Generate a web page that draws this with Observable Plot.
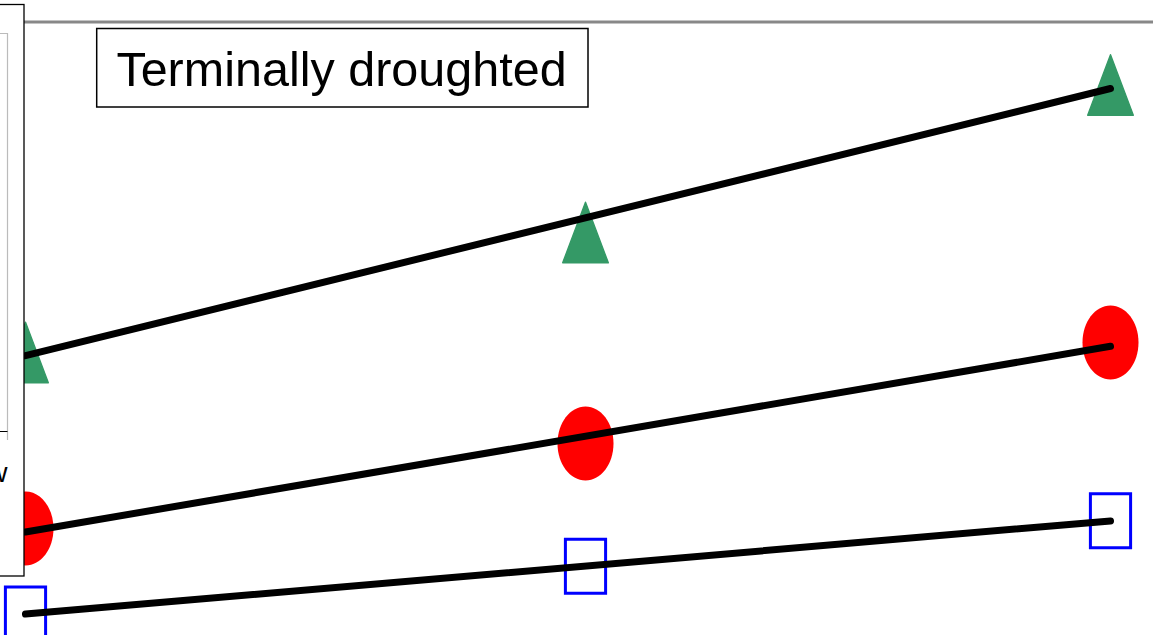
<!DOCTYPE html>
<html><head><meta charset="utf-8">
<script src="https://cdn.jsdelivr.net/npm/d3@7"></script>
<script src="https://cdn.jsdelivr.net/npm/@observablehq/plot@0.6"></script>
<style>
html,body{margin:0;padding:0;background:#fff;overflow:hidden}
#chart svg{display:block}
</style></head><body><div id="chart"></div>
<script>
// ---- data ----
const days = [0, 16, 31];
const triangleValues = [27.22, 39.22, 53.97];
const circleValues = [9.35, 17.85, 27.95];
const squareValues = [0.8, 5.58, 10.12];
const panelTitle = "Terminally droughted";
const leftPanelLabel = "w";
const yTop = 60;

const triRows = days.map((d, i) => ({day: d, value: triangleValues[i]}));
const circRows = days.map((d, i) => ({day: d, value: circleValues[i]}));
const sqRows = days.map((d, i) => ({day: d, value: squareValues[i]}));

// ---- custom (stretched) symbols ----
const triSym = {draw(ctx) {
  const w = 22.8, h = 30.3, off = 2.7;
  ctx.moveTo(0, -h + off); ctx.lineTo(w, h + off); ctx.lineTo(-w, h + off); ctx.closePath();
}};
const ellSym = {draw(ctx) {
  const rx = 28, ry = 37, k = 0.5523;
  ctx.moveTo(rx, 0);
  ctx.bezierCurveTo(rx, ry * k, rx * k, ry, 0, ry);
  ctx.bezierCurveTo(-rx * k, ry, -rx, ry * k, -rx, 0);
  ctx.bezierCurveTo(-rx, -ry * k, -rx * k, -ry, 0, -ry);
  ctx.bezierCurveTo(rx * k, -ry, rx, -ry * k, rx, 0);
  ctx.closePath();
}};
const sqSym = {draw(ctx) {
  const w = 20.1, h = 27;
  ctx.moveTo(-w, -h); ctx.lineTo(w, -h); ctx.lineTo(w, h); ctx.lineTo(-w, h); ctx.closePath();
}};

const lineStyle = {x: "day", y: "value", ci: 0, stroke: "black", strokeWidth: 7, strokeLinecap: "round"};

const chart = Plot.plot({
  width: 1153, height: 635, margin: 0,
  x: {domain: [0, 31], range: [25, 1110], axis: null},
  y: {domain: [0, 60], range: [621.5, 21.5], axis: null},
  marks: [
    Plot.ruleY([yTop], {stroke: "#888", strokeWidth: 3}),
    Plot.dot(triRows, {x: "day", y: "value", symbol: triSym, r: 10, fill: "#349966", stroke: "#349966", strokeWidth: 1.4, strokeLinejoin: "round"}),
    Plot.dot(circRows, {x: "day", y: "value", symbol: ellSym, r: 10, fill: "#ff0000", stroke: "none"}),
    Plot.dot(sqRows, {x: "day", y: "value", symbol: sqSym, r: 10, fill: "none", stroke: "#0000ff", strokeWidth: 3}),
    Plot.linearRegressionY(triRows, lineStyle),
    Plot.linearRegressionY(circRows, lineStyle),
    Plot.linearRegressionY(sqRows, lineStyle)
  ]
});
document.getElementById("chart").appendChild(chart);

// ---- decorations: neighbouring panel edge and panel title box ----
const svg = d3.select(chart);
const g = svg.append("g");
g.append("rect").attr("x", -2).attr("y", 4.5).attr("width", 26).attr("height", 571.5)
  .attr("fill", "white").attr("stroke", "black").attr("stroke-width", 1.3);
g.append("path").attr("d", "M0,33.5H7.5V440").attr("fill", "none").attr("stroke", "#bbb").attr("stroke-width", 1.2);
g.append("path").attr("d", "M0,431.5H7.5").attr("fill", "none").attr("stroke", "black").attr("stroke-width", 1);
g.append("text").attr("x", 7.5).attr("y", 482).attr("text-anchor", "end")
  .attr("font-family", "'Liberation Sans', Arial, sans-serif").attr("font-size", 28).attr("fill", "black").text(leftPanelLabel);
g.append("rect").attr("x", 96.7).attr("y", 28.5).attr("width", 491.3).attr("height", 78.5)
  .attr("fill", "white").attr("stroke", "black").attr("stroke-width", 1.5);
g.append("text").attr("x", 341.5).attr("y", 86).attr("text-anchor", "middle")
  .attr("font-family", "'Liberation Sans', Arial, sans-serif").attr("font-size", 48.5).attr("fill", "black").text(panelTitle);
</script>
</body></html>
